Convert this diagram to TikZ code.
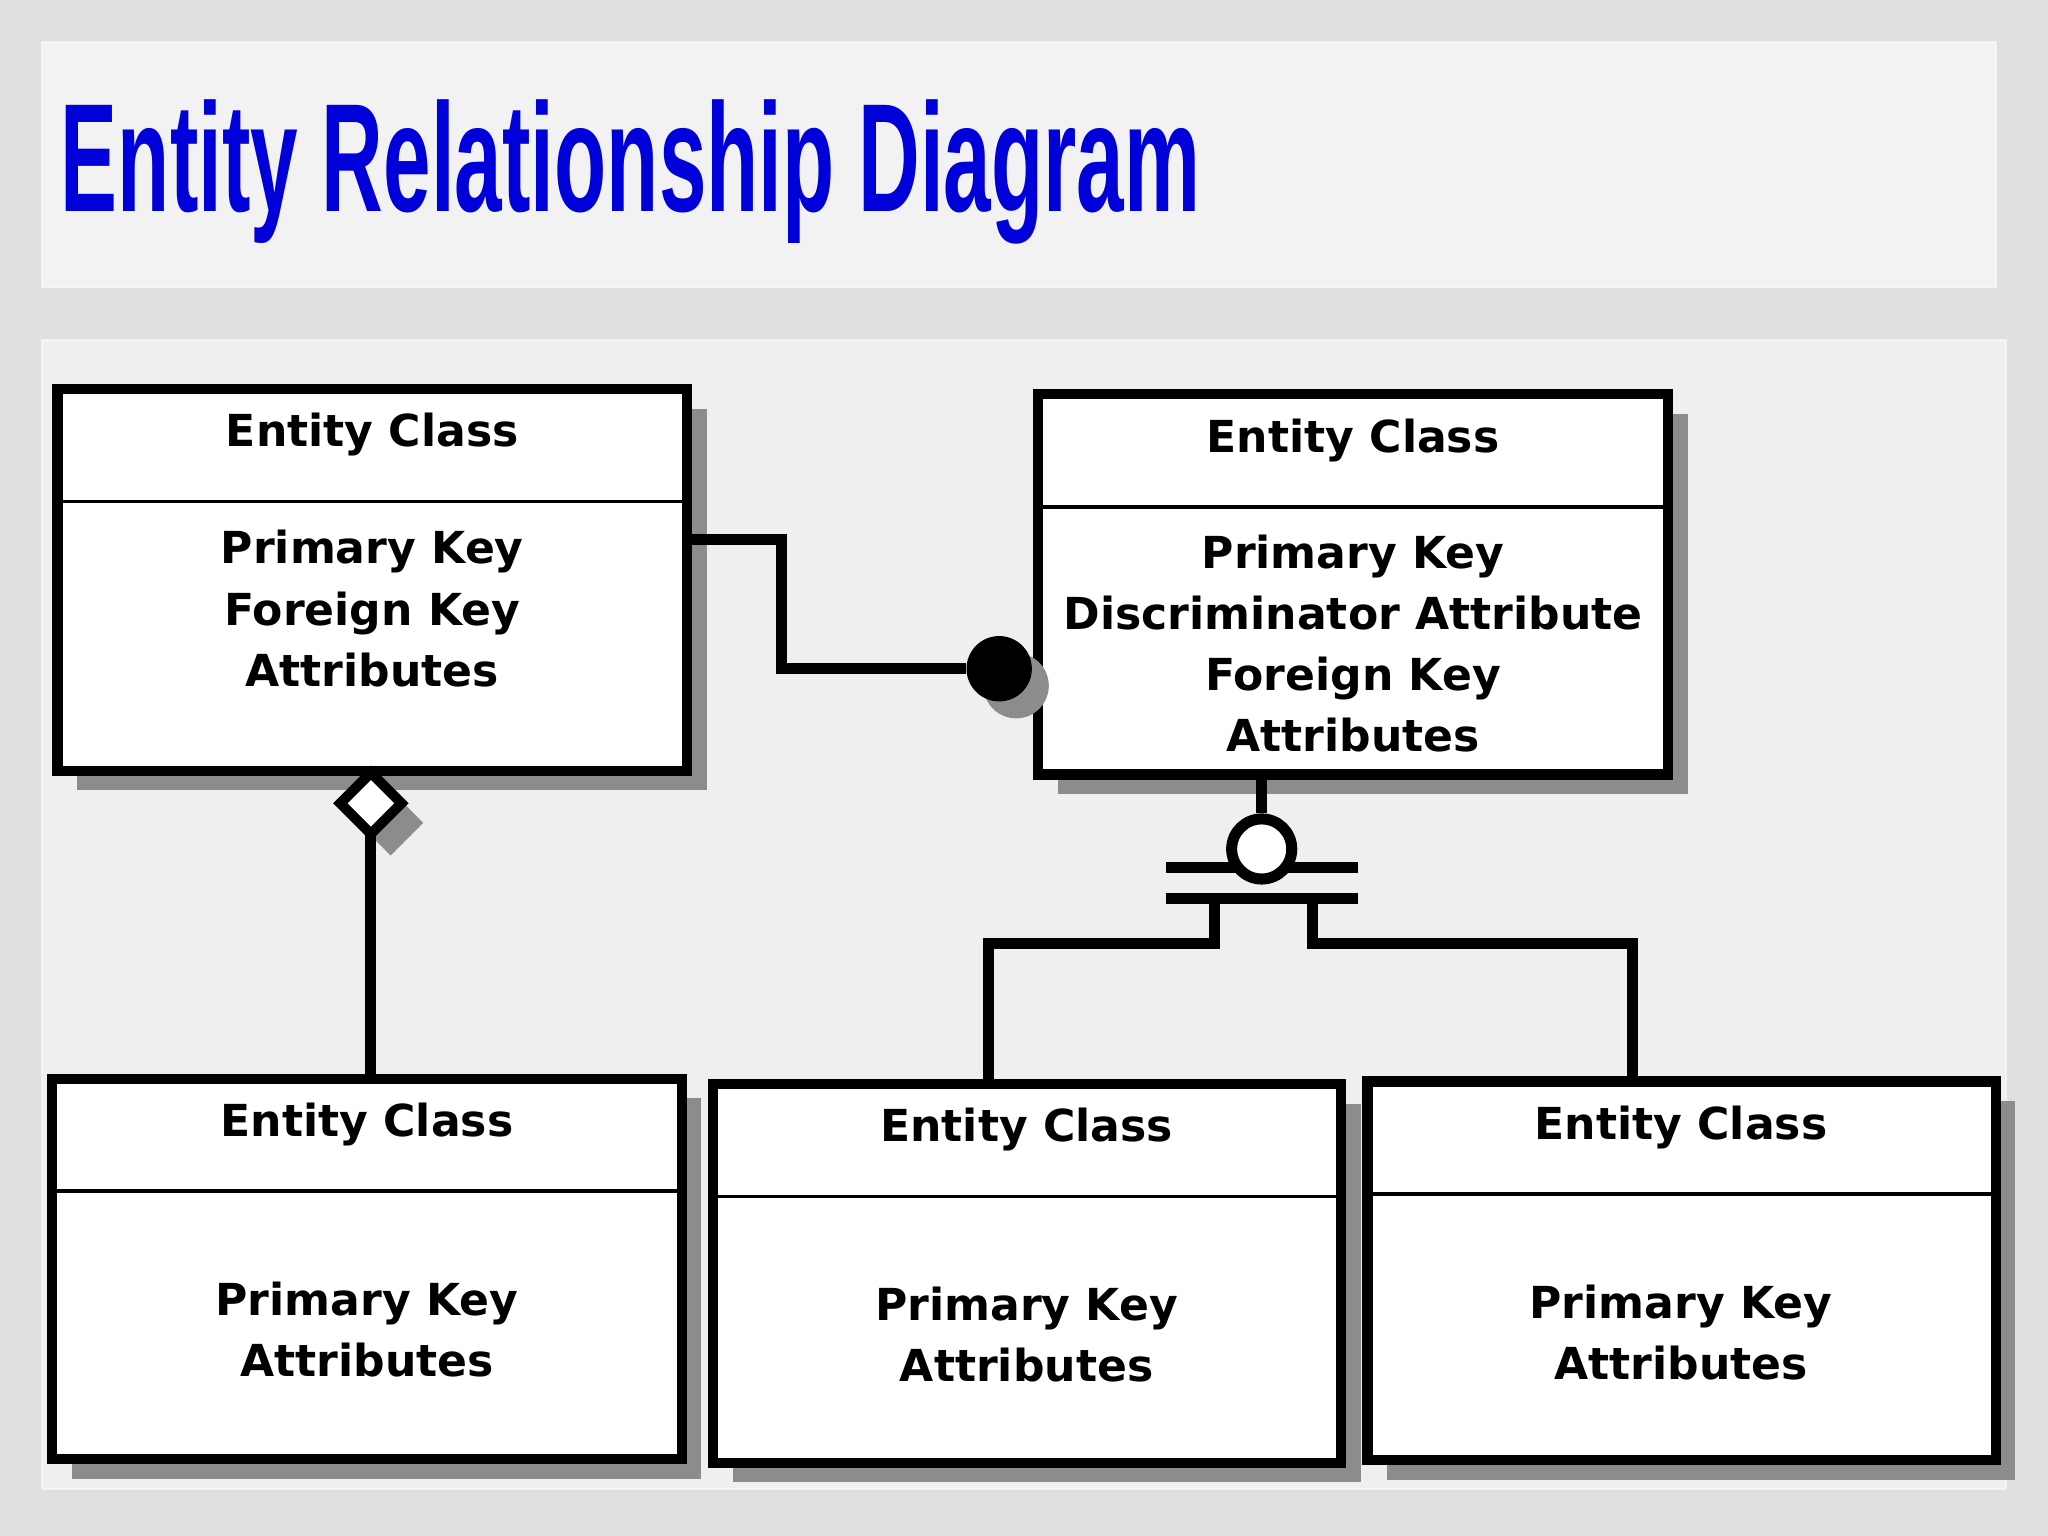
\documentclass[tikz,border=0pt]{standalone}
\usepackage{fontspec}
\setmainfont{DejaVu Sans}
\newfontfamily\titlefont{Liberation Sans}
\usetikzlibrary{shapes.geometric}
\begin{document}
\begin{tikzpicture}[x=0.01cm,y=-0.01cm,
  ent/.style={draw=black,line width=2.2pt,fill=white},
  shad/.style={fill=black!45},
  conn/.style={line width=2.4pt,draw=black},
  txt/.style={font=\bfseries\fontsize{9.6}{13.3}\selectfont,align=center,inner sep=0}]
\useasboundingbox (0,0) rectangle (1568,1176);
\fill[black!12] (0,0) rectangle (1568,1176);
\fill[white,opacity=0.6,draw=white] (32,32) rectangle (1528,220);
\fill[white,opacity=0.5,draw=white] (32,260) rectangle (1536,1140);
\node[anchor=west,inner sep=0,text=blue!85!black] (title) at (46,132)
  {\titlefont\bfseries\fontsize{30}{30}\selectfont\scalebox{0.62}[1.12]{Entity Relationship Diagram}};
% entity boxes
\foreach \n/\xa/\ya/\xb/\yb/\d in {A/44/298/526/590/384, B/795/302/1277/593/388, C/40/826/522/1117/912, D/546/830/1027/1120/916, E/1047/828/1528/1118/914}{
  \fill[shad] (\xa+15,\ya+15) rectangle (\xb+15,\yb+15);
  \draw[ent] (\xa,\ya) rectangle (\xb,\yb);
  \draw[line width=0.8pt] (\xa,\d) -- (\xb,\d);
  \coordinate (\n) at (\xa,\ya);
}
\node[txt] (at) at (285,333) {Entity Class};
\node[txt] (ab) at (285,466) {Primary Key\\Foreign Key\\Attributes};
\node[txt] (bt) at (1036,337) {Entity Class};
\node[txt] (bb) at (1036,493) {Primary Key\\Discriminator Attribute\\Foreign Key\\Attributes};
\node[txt] (ct) at (281,861) {Entity Class};
\node[txt] (cb) at (281,1018) {Primary Key\\Attributes};
\node[txt] (dt) at (786,865) {Entity Class};
\node[txt] (db) at (786,1022) {Primary Key\\Attributes};
\node[txt] (et) at (1287,863) {Entity Class};
\node[txt] (eb) at (1287,1020) {Primary Key\\Attributes};
% connector A-B
\coordinate (a1) at (526,413);
\fill[black!45] (778,525) circle (25);
\node[circle,fill=black,minimum size=0.5cm,inner sep=0] (dot) at (765,512) {};
\draw[conn] (a1) -- (598,413) -- (598,512) -- (dot);
% connector A-C
\fill[black!45] (299,605) -- (324,630) -- (299,655) -- (274,630) -- cycle;
\coordinate (c1) at (284,826);
\draw[conn] (284,630) -- (c1);
\node[diamond,draw,line width=2.2pt,fill=white,minimum size=0.5cm,inner sep=0] (dia) at (284,615) {};
% subtype
\coordinate (b1) at (966,593);
\draw[conn] (893,664) -- (1040,664);
\node[circle,draw,line width=2.4pt,fill=white,minimum size=0.46cm,inner sep=0] (oc) at (966,650) {};
\draw[conn] (b1) -- (oc);
\draw[conn] (893,688) -- (1040,688);
\coordinate (d1) at (757,830);
\coordinate (e1) at (1250,828);
\draw[conn] (930,688) -- (930,722) -- (757,722) -- (d1);
\draw[conn] (1005,688) -- (1005,722) -- (1250,722) -- (e1);
\end{tikzpicture}
\end{document}
